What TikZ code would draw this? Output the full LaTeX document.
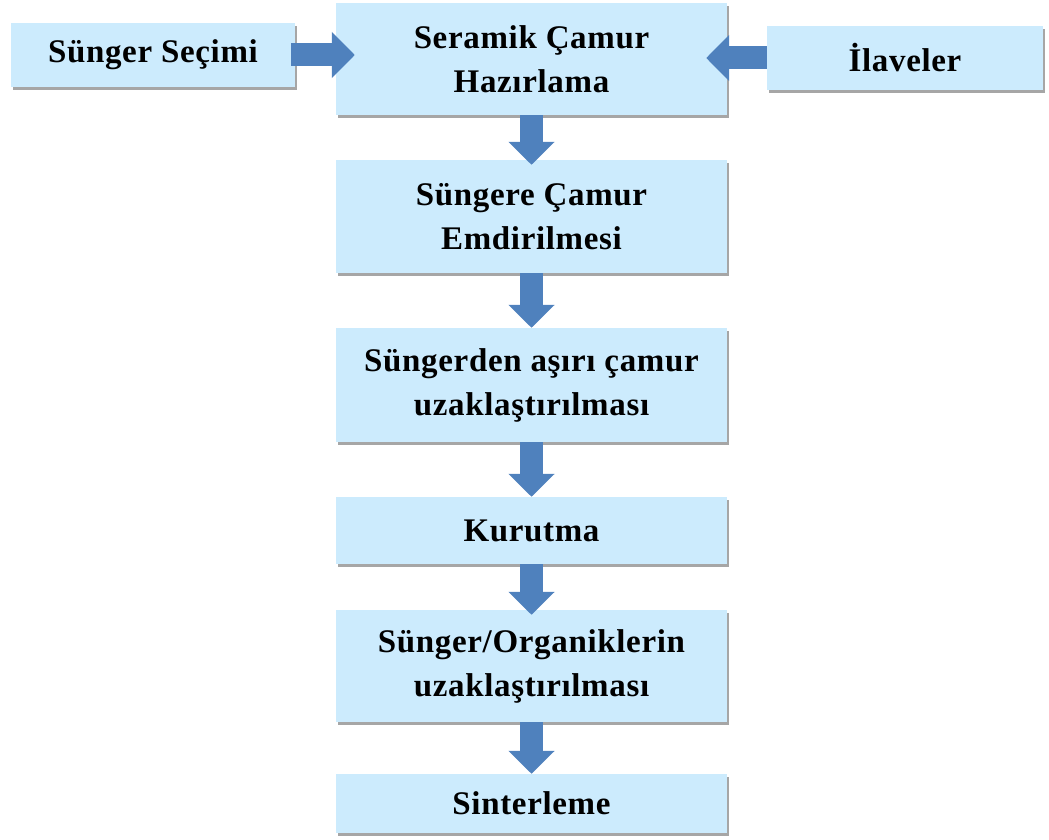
\documentclass[tikz,border=0pt]{standalone}
\usepackage{fontspec}
\setmainfont{Liberation Serif}[LetterSpace=2]
\usetikzlibrary{arrows.meta,shadows}
\definecolor{boxfill}{RGB}{204,235,253}
\definecolor{arrowblue}{RGB}{79,129,189}
\tikzset{
  stepbox/.style={rectangle, fill=boxfill, inner sep=0pt, align=center,
    minimum width=391pt,
    font=\fontsize{33}{44}\selectfont\bfseries,
    drop shadow={shadow xshift=2pt, shadow yshift=-3pt, fill=black, opacity=0.35}},
  fatarrow/.style={draw=arrowblue, line width=23pt, line cap=butt,
    -{Triangle[length=23pt, width=45pt]}}
}
\begin{document}
\begin{tikzpicture}[x=1pt, y=-1pt]
\useasboundingbox (0,0) rectangle (1049,840);
\node[stepbox, minimum width=284pt, minimum height=64pt] (sel) at (153,55) {Sünger Seçimi};
\node[stepbox, minimum height=112pt] (cam) at (531.5,59) {Seramik Çamur\\Hazırlama};
\node[stepbox, minimum width=276pt, minimum height=64pt] (ila) at (905,58) {İlaveler};
\node[stepbox, minimum height=113pt] (emd) at (531.5,216.5) {Süngere Çamur\\Emdirilmesi};
\node[stepbox, minimum height=114pt] (asi) at (531.5,385) {Süngerden aşırı çamur\\uzaklaştırılması};
\node[stepbox, minimum height=67pt] (kur) at (531.5,530.5) {Kurutma};
\node[stepbox, minimum height=112pt] (org) at (531.5,666) {Sünger/Organiklerin\\uzaklaştırılması};
\node[stepbox, minimum height=59pt] (sin) at (531.5,803.5) {Sinterleme};
\draw[fatarrow] ([xshift=-4pt]sel.east) -- ([xshift=19pt]cam.west |- sel.east);
\draw[fatarrow] ([yshift=0pt]ila.west) -- ([xshift=-21pt]cam.east |- ila.west);
\draw[fatarrow] (cam.south) -- ([yshift=-5pt]emd.north);
\draw[fatarrow] (emd.south) -- (asi.north);
\draw[fatarrow] (asi.south) -- (kur.north);
\draw[fatarrow] (kur.south) -- ([yshift=-5pt]org.north);
\draw[fatarrow] (org.south) -- (sin.north);
\end{tikzpicture}
\end{document}
